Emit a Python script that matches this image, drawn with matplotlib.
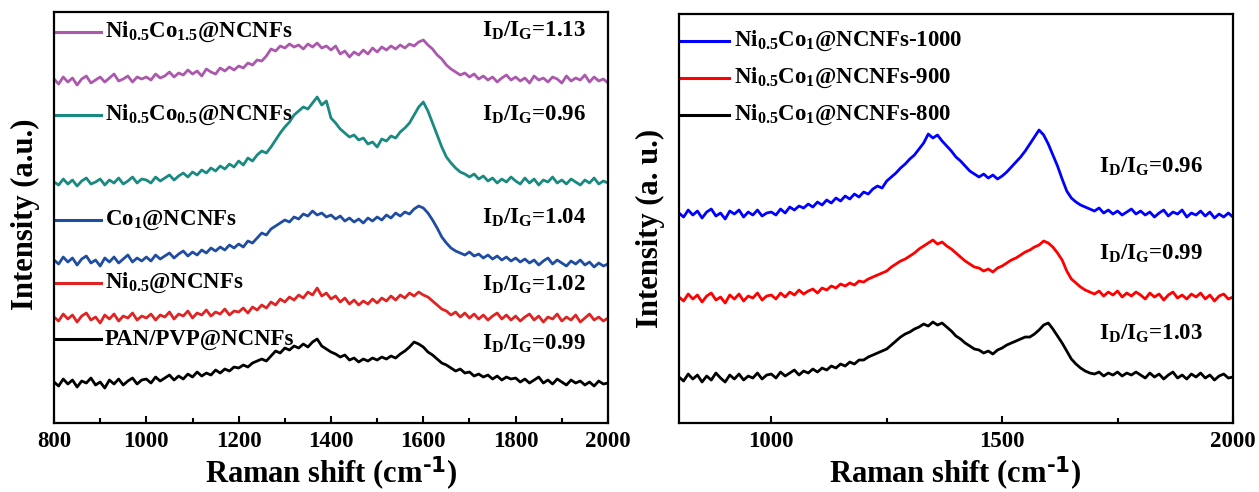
import matplotlib
matplotlib.use("Agg")
import matplotlib.pyplot as plt
from matplotlib.ticker import MultipleLocator
import numpy as np

plt.rcParams['font.family'] = ['Liberation Serif', 'DejaVu Serif']
plt.rcParams['font.weight'] = 'bold'
plt.rcParams['mathtext.default'] = 'regular'

# Raman shift axis, cm-1 (10 cm-1 steps)
shift = np.arange(800, 2001, 10)

# ---- left panel: stacked spectra, offset intensities (a.u.) ----
ni05co15 = [344, 339, 346, 341, 345, 338, 344, 347, 340, 343, 346, 341, 345, 349, 342, 344, 347, 341, 346, 344,
            346, 343, 349, 345, 347, 351, 346, 350, 348, 353, 349, 352, 347, 354, 351, 349, 355, 352, 356, 353,
            357, 355, 360, 358, 363, 362, 367, 374, 372, 377, 375, 379, 376, 378, 374, 379, 376, 380, 375, 377,
            373, 377, 369, 372, 366, 371, 368, 373, 369, 375, 371, 376, 373, 377, 374, 378, 375, 379, 377, 381,
            383, 378, 374, 368, 364, 358, 354, 351, 348, 350, 346, 349, 344, 347, 343, 346, 341, 345, 348, 343,
            346, 342, 345, 340, 347, 343, 345, 341, 346, 344, 340, 347, 342, 345, 343, 348, 341, 346, 342, 344, 340]
ni05co05 = [241, 238, 244, 239, 243, 237, 242, 245, 239, 241, 244, 238, 243, 240, 245, 239, 242, 246, 240, 244,
            243, 240, 246, 242, 245, 248, 243, 247, 250, 246, 251, 248, 253, 250, 255, 252, 257, 254, 259, 256,
            262, 258, 265, 262, 268, 272, 270, 276, 283, 290, 296, 301, 308, 312, 316, 314, 320, 326, 318, 322,
            305, 300, 294, 290, 286, 288, 283, 285, 279, 281, 276, 284, 282, 287, 285, 291, 295, 300, 308, 316,
            321, 312, 300, 288, 276, 266, 260, 255, 251, 249, 246, 249, 244, 247, 242, 245, 240, 244, 241, 246,
            242, 239, 245, 240, 244, 238, 243, 241, 246, 240, 243, 239, 244, 241, 238, 243, 240, 245, 239, 242, 240]
co1 = [163, 159, 166, 161, 165, 158, 164, 167, 160, 163, 157, 165, 161, 166, 160, 164, 168, 161, 165, 162,
       166, 162, 168, 164, 167, 170, 165, 169, 172, 167, 171, 168, 173, 170, 175, 172, 176, 173, 178, 175,
       179, 176, 182, 180, 185, 190, 188, 194, 197, 200, 203, 201, 206, 204, 209, 207, 212, 208, 210, 206,
       208, 204, 207, 202, 205, 201, 204, 200, 205, 202, 206, 203, 208, 205, 210, 207, 211, 209, 214, 217,
       215, 210, 203, 195, 186, 180, 175, 172, 170, 168, 171, 167, 169, 165, 168, 164, 167, 163, 166, 162,
       165, 161, 164, 160, 163, 158, 162, 165, 159, 163, 160, 157, 162, 159, 163, 158, 161, 156, 160, 157, 159]
ni05 = [106, 102, 109, 104, 108, 101, 107, 110, 103, 106, 100, 108, 104, 109, 102, 107, 105, 110, 103, 107,
        105, 109, 103, 108, 106, 111, 104, 109, 107, 112, 105, 110, 108, 113, 107, 111, 109, 114, 108, 112,
        111, 115, 110, 116, 113, 118, 115, 121, 118, 124, 121, 126, 123, 128, 125, 131, 128, 135, 127, 130,
        124, 127, 121, 125, 119, 123, 118, 122, 119, 124, 120, 125, 122, 127, 123, 128, 125, 130, 127, 131,
        128, 126, 122, 118, 114, 112, 108, 111, 106, 110, 105, 109, 104, 108, 103, 107, 110, 104, 108, 103,
        107, 102, 106, 109, 103, 107, 101, 106, 104, 109, 102, 106, 103, 108, 101, 105, 109, 103, 106, 102, 105]
pan_pvp = [41, 37, 44, 39, 43, 36, 42, 40, 45, 38, 41, 35, 43, 39, 44, 38, 42, 45, 39, 43,
           44, 40, 46, 42, 45, 48, 43, 47, 44, 49, 46, 51, 47, 50, 48, 53, 50, 54, 52, 56,
           55, 58, 56, 60, 62, 64, 62, 67, 72, 70, 75, 73, 77, 75, 79, 76, 81, 84, 77, 74,
           71, 69, 66, 68, 63, 65, 61, 64, 62, 65, 63, 66, 64, 67, 65, 69, 72, 76, 81, 79,
           76, 71, 68, 64, 60, 58, 55, 52, 54, 50, 51, 47, 49, 46, 48, 44, 47, 43, 46, 44,
           45, 41, 44, 40, 43, 46, 40, 43, 39, 44, 41, 38, 43, 40, 42, 38, 41, 37, 42, 39, 40]

left_labels = [r'Ni$_{0.5}$Co$_{1.5}$@NCNFs', r'Ni$_{0.5}$Co$_{0.5}$@NCNFs', r'Co$_{1}$@NCNFs',
               r'Ni$_{0.5}$@NCNFs', 'PAN/PVP@NCNFs']
left_ratios = ['1.13', '0.96', '1.04', '1.02', '0.99']
left_colors = ['#AC58AC', '#1A8A80', '#1F4DA2', '#E02424', '#000000']

# ---- right panel: carbonisation temperature series ----
t1000 = [210, 206, 213, 208, 212, 205, 211, 214, 207, 210, 204, 212, 209, 213, 206, 211, 208, 213, 207, 210,
         211, 208, 214, 210, 216, 213, 217, 215, 219, 216, 221, 218, 223, 220, 225, 222, 227, 224, 229, 226,
         231, 229, 234, 237, 235, 242, 246, 250, 255, 259, 264, 268, 274, 280, 289, 285, 288, 282, 277, 272,
         266, 262, 257, 252, 249, 246, 249, 245, 248, 244, 247, 251, 256, 261, 266, 272, 279, 286, 293, 288,
         279, 268, 257, 244, 232, 225, 221, 218, 216, 214, 212, 215, 210, 213, 209, 212, 208, 211, 214, 209,
         212, 208, 211, 206, 210, 213, 207, 211, 209, 213, 206, 210, 208, 212, 207, 211, 205, 209, 206, 210, 206]
t900 = [126, 122, 129, 124, 128, 121, 127, 130, 123, 126, 120, 128, 124, 129, 122, 127, 125, 130, 123, 127,
        128, 124, 130, 126, 131, 128, 133, 129, 132, 134, 130, 135, 133, 137, 135, 139, 137, 140, 138, 142,
        141, 144, 146, 148, 150, 152, 156, 159, 162, 164, 167, 170, 174, 177, 180, 183, 179, 181, 177, 174,
        170, 166, 162, 159, 156, 155, 152, 154, 151, 155, 157, 160, 163, 165, 168, 171, 173, 176, 178, 182,
        180, 176, 170, 163, 152, 144, 140, 136, 133, 131, 129, 132, 127, 131, 128, 132, 126, 130, 127, 131,
        128, 124, 130, 126, 129, 123, 128, 131, 125, 128, 124, 129, 126, 130, 124, 128, 122, 127, 129, 124, 126]
t800 = [46, 42, 49, 44, 48, 41, 47, 43, 50, 45, 41, 48, 44, 49, 43, 47, 45, 50, 44, 48,
        49, 45, 51, 47, 50, 53, 48, 52, 50, 54, 51, 55, 53, 57, 55, 59, 57, 61, 59, 63,
        63, 66, 68, 70, 72, 74, 78, 82, 86, 89, 91, 94, 96, 99, 97, 101, 98, 100, 96, 92,
        87, 84, 80, 77, 74, 73, 70, 72, 69, 73, 75, 78, 80, 82, 84, 86, 86, 89, 93, 98,
        100, 94, 87, 80, 72, 64, 59, 55, 52, 50, 49, 51, 47, 50, 48, 51, 47, 50, 48, 51,
        48, 45, 50, 46, 49, 44, 48, 51, 45, 48, 44, 49, 46, 50, 45, 48, 43, 47, 49, 45, 46]

right_labels = [r'Ni$_{0.5}$Co$_{1}$@NCNFs-1000', r'Ni$_{0.5}$Co$_{1}$@NCNFs-900',
                r'Ni$_{0.5}$Co$_{1}$@NCNFs-800']
right_ratios = ['0.96', '0.99', '1.03']
right_colors = ['#0000FF', '#FF0000', '#000000']


def style_axis(ax, major, minor, ymax):
    ax.set_xlim(800, 2000)
    ax.set_ylim(0, ymax)
    ax.xaxis.set_major_locator(MultipleLocator(major))
    ax.xaxis.set_minor_locator(MultipleLocator(minor))
    ax.set_yticks([])
    ax.tick_params(axis='x', which='both', direction='in', top=False, labelsize=16.5, pad=6)
    ax.tick_params(axis='x', which='major', length=5, width=1.5)
    ax.tick_params(axis='x', which='minor', length=3.5, width=1.5)
    for spine in ax.spines.values():
        spine.set_linewidth(1.6)


fig = plt.figure(figsize=(12.59, 4.92), dpi=100)
ax1 = fig.add_axes([0.0429, 0.1402, 0.440, 0.8354])
ax2 = fig.add_axes([0.5393, 0.1402, 0.440, 0.8313])

# left panel
left_series = [ni05co15, ni05co05, co1, ni05, pan_pvp]
left_key_y = [0.951, 0.749, 0.494, 0.341, 0.204]
left_ratio_y = [0.955, 0.750, 0.500, 0.335, 0.192]
for data, label, ratio, color, ky, ry in zip(left_series, left_labels, left_ratios,
                                             left_colors, left_key_y, left_ratio_y):
    ax1.plot(shift, data, color=color, lw=2.0)
    ax1.plot([0.004, 0.085], [ky, ky], color=color, lw=2.2, transform=ax1.transAxes)
    ax1.text(0.092, ky, label, transform=ax1.transAxes, fontsize=16.5, va='center', ha='left')
    ax1.text(0.960, ry, r'I$_D$/I$_G$=' + ratio, transform=ax1.transAxes,
             fontsize=16.5, va='center', ha='right')
style_axis(ax1, 200, 100, 411)

# right panel
right_series = [t1000, t900, t800]
right_key_y = [0.934, 0.844, 0.753]
right_ratio_y = [0.626, 0.413, 0.218]
for data, label, ratio, color, ky, ry in zip(right_series, right_labels, right_ratios,
                                             right_colors, right_key_y, right_ratio_y):
    ax2.plot(shift, data, color=color, lw=2.0)
    ax2.plot([0.004, 0.09], [ky, ky], color=color, lw=2.2, transform=ax2.transAxes)
    ax2.text(0.100, ky, label, transform=ax2.transAxes, fontsize=16.5, va='center', ha='left')
    ax2.text(0.758, ry, r'I$_D$/I$_G$=' + ratio, transform=ax2.transAxes,
             fontsize=16.5, va='center', ha='left')
style_axis(ax2, 500, 250, 409)

xlabel = r'Raman shift (cm$^{\text{-1}}$)'
fig.text(0.0199, 0.565, 'Intensity (a.u.)', rotation=90, fontsize=22, va='center', ha='center')
fig.text(0.5163, 0.535, 'Intensity (a. u.)', rotation=90, fontsize=22, va='center', ha='center')
fig.text(0.263, 0.038, xlabel, fontsize=22, va='center', ha='center')
fig.text(0.759, 0.038, xlabel, fontsize=22, va='center', ha='center')

fig.savefig('out.png', dpi=100)
